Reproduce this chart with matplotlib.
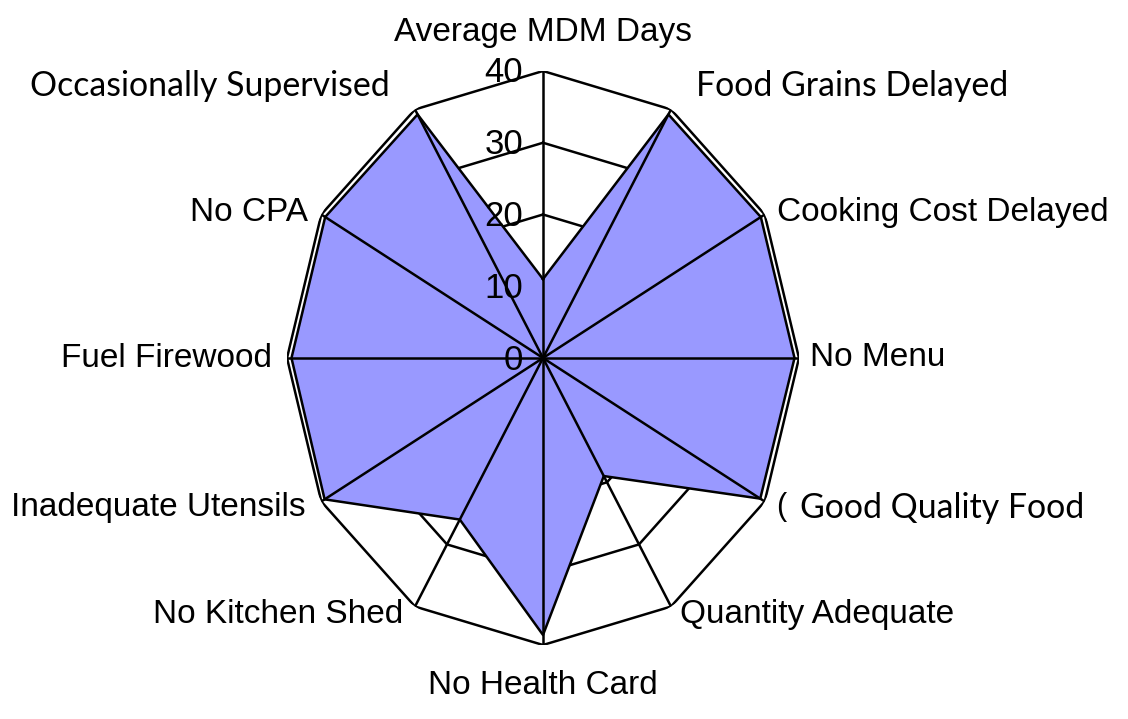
import numpy as np
import matplotlib
matplotlib.use("Agg")
import matplotlib.pyplot as plt
from matplotlib.transforms import offset_copy

categories = ["Average MDM Days", "Food Grains Delayed", "Cooking Cost Delayed",
              "No Menu", "Good Quality Food", "Quantity Adequate", "No Health Card",
              "No Kitchen Shed", "Inadequate Utensils", "Fuel Firewood", "No CPA",
              "Occasionally Supervised"]
values = [11, 39.2, 39.3, 39.3, 39.2, 19, 38.6, 26, 39.4, 39.3, 39.3, 39.2]
rticks = [0, 10, 20, 30, 40]
calibri_like = {"Food Grains Delayed", "Good Quality Food", "Occasionally Supervised"}

# label offsets (pixels) from the outer vertex, plus alignment
label_layout = {
    "Average MDM Days": (0, 39, "center"),
    "Food Grains Delayed": (25, 23, "left"),
    "Cooking Cost Delayed": (12, 2, "left"),
    "No Menu": (11, 0, "left"),
    "Good Quality Food": (35, -6, "left"),
    "Quantity Adequate": (9, -8, "left"),
    "No Health Card": (0, -41, "center"),
    "No Kitchen Shed": (-12, -8, "right"),
    "Inadequate Utensils": (-16, -6, "right"),
    "Fuel Firewood": (-15, 0, "right"),
    "No CPA": (-13, 2, "right"),
    "Occasionally Supervised": (-25, 23, "right"),
}

W, H = 1128, 719
fig = plt.figure(figsize=(W / 100, H / 100), dpi=100)
cx, cy, rx, ry = 543, 358, 256, 287
ax = fig.add_axes([(cx - rx) / W, (H - cy - ry) / H, 2 * rx / W, 2 * ry / H],
                  projection="polar")
ax.set_aspect("auto")
ax.set_theta_zero_location("N")
ax.set_theta_direction(-1)
ax.set_ylim(0, 40)
ax.grid(False)
ax.spines["polar"].set_visible(False)
ax.set_xticks([])
ax.set_yticks([])
ax.patch.set_alpha(0)

n = len(categories)
theta = np.arange(n) * 2 * np.pi / n
theta_c = np.append(theta, theta[0])

LW = 1.8
# rings
for r in rticks[1:]:
    ax.plot(theta_c, [r] * (n + 1), color="black", lw=LW, zorder=1)

# data fill
vals_c = np.append(values, values[0])
ax.fill(theta_c, vals_c, color="#9999FF", zorder=2, lw=0)

# spokes
for t in theta:
    ax.plot([t, t], [0, 40], color="black", lw=LW, zorder=3)

# data edge
ax.plot(theta_c, vals_c, color="black", lw=LW, zorder=4)

# radial labels
tr = offset_copy(ax.transData, fig=fig, x=-20, y=-2, units="dots")
for r in rticks:
    ax.text(0, r, str(r), transform=tr, ha="right", va="center",
            fontsize=25, family="Liberation Sans", color="black", zorder=5)

# category labels
for t, c in zip(theta, categories):
    dx, dy, ha = label_layout[c]
    trc = offset_copy(ax.transData, fig=fig, x=dx, y=dy, units="dots")
    if c in calibri_like:
        ax.text(t, 40, c, transform=trc, ha=ha, va="center", fontsize=24.4,
                family="Lato", color="black", clip_on=False)
    else:
        ax.text(t, 40, c, transform=trc, ha=ha, va="center", fontsize=24,
                family="Liberation Sans", color="black", clip_on=False)

# partially hidden leftover character before "Good Quality Food"
trp = offset_copy(ax.transData, fig=fig, x=11, y=-6, units="dots")
ax.text(theta[4], 40, "(", transform=trp, ha="left", va="center", fontsize=22,
        family="Liberation Sans", color="black", clip_on=False)

fig.savefig("out.png", dpi=100, facecolor="white")
